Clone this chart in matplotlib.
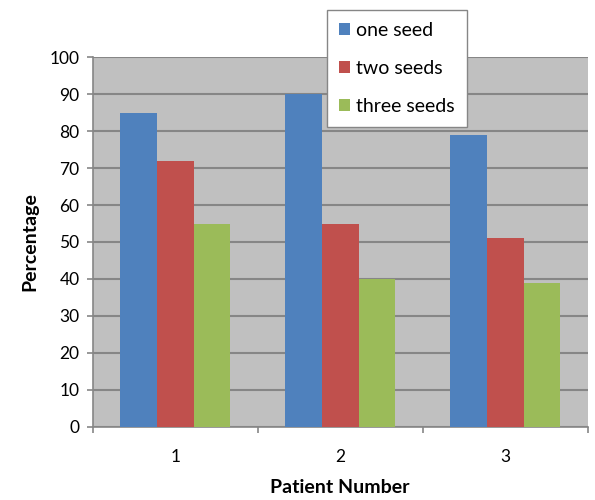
import numpy as np
import matplotlib
matplotlib.use("Agg")
from matplotlib import pyplot as plt

plt.rcParams['font.family'] = ['Lato', 'DejaVu Sans']

patients = ['1', '2', '3']
one_seed = [85, 90, 79]
two_seeds = [72, 55, 51]
three_seeds = [55, 40, 39]
series_names = ['one seed', 'two seeds', 'three seeds']
colors = ['#4F81BD', '#C0504D', '#9BBB59']

fig = plt.figure(figsize=(5.95, 5.0), dpi=100)
ax = fig.add_axes([0.1558, 0.1466, 0.832, 0.7388])
ax.set_facecolor('#C0C0C0')

x = np.arange(len(patients))
w = 0.222
for k, (vals, name, c) in enumerate(zip([one_seed, two_seeds, three_seeds], series_names, colors)):
    ax.bar(x + (k - 1) * w, vals, width=w, color=c, label=name, zorder=3)

ax.set_xlim(-0.5, 2.5)
ax.set_ylim(0, 100)
ax.set_yticks(range(0, 101, 10))
ax.yaxis.grid(True, color='#868686', linewidth=1.5, zorder=1)
ax.set_axisbelow(True)

ax.set_xticks(x)
ax.set_xticklabels(patients)
ax.set_xticks([-0.5, 0.5, 1.5, 2.5], minor=True)
ax.tick_params(axis='x', which='major', length=0, pad=16, labelsize=12.5)
ax.tick_params(axis='x', which='minor', length=4.5, color='#868686', width=1.2)
ax.tick_params(axis='y', length=4.5, color='#868686', width=1.2, labelsize=12.5, pad=5)

for s in ['top', 'right']:
    ax.spines[s].set_visible(False)
for s in ['left', 'bottom']:
    ax.spines[s].set_color('#868686')
    ax.spines[s].set_linewidth(1.2)

ax.set_xlabel('Patient Number', fontsize=14, fontweight='bold', labelpad=10)
ax.set_ylabel('Percentage', fontsize=14, fontweight='bold', labelpad=8)

leg = ax.legend(loc='upper left', bbox_to_anchor=(327 / 595, 1 - 10 / 500),
                bbox_transform=fig.transFigure, frameon=True, fancybox=False,
                framealpha=1, handlelength=0.57, handleheight=0.57, handletextpad=0.3,
                labelspacing=1.08, fontsize=14, borderpad=0.62, borderaxespad=0)
leg.get_frame().set_edgecolor('#868686')
leg.get_frame().set_linewidth(1.0)
leg.set_zorder(5)

fig.savefig('out.png', dpi=100)
